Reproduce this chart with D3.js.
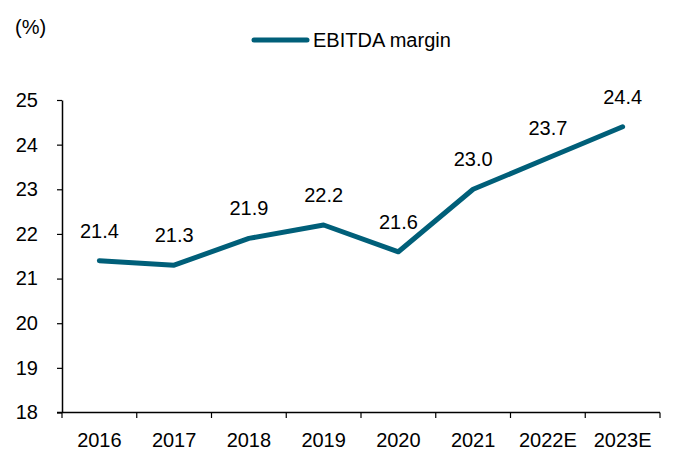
<!DOCTYPE html>
<html>
<head>
<meta charset="utf-8">
<script src="https://cdn.jsdelivr.net/npm/d3@7"></script>
<style>
  body { margin: 0; background: #fff; }
  text { font-family: "Liberation Sans", Arial, sans-serif; fill: #000; }
</style>
</head>
<body>
<div id="chart"></div>
<script>
// Data
var years = ["2016", "2017", "2018", "2019", "2020", "2021", "2022E", "2023E"];
var margin = [21.4, 21.3, 21.9, 22.2, 21.6, 23.0, 23.7, 24.4];
var yTicks = [18, 19, 20, 21, 22, 23, 24, 25];
var seriesName = "EBITDA margin";

var w = 683, h = 450;
var fs = 20;
var lineColor = "#005f79";

var svg = d3.select("#chart").append("svg")
	.attr("width", w)
	.attr("height", h);

// Scales
var x = d3.scaleBand()
	.domain(years)
	.range([62, 660]);

var y = d3.scaleLinear()
	.domain([18, 25])
	.range([412.5, 100]);

// Y axis
var yAxis = d3.axisLeft(y)
	.tickValues(yTicks)
	.tickFormat(d3.format("d"))
	.tickSizeInner(5)
	.tickSizeOuter(0)
	.tickPadding(19);

var gy = svg.append("g")
	.attr("transform", "translate(62,0)")
	.call(yAxis);
gy.attr("font-size", fs).attr("font-family", null);
gy.selectAll("text").attr("font-size", fs);
gy.select(".domain").attr("stroke-width", 1.5);
gy.selectAll(".tick line").attr("stroke-width", 1.2);

// X axis with ticks between categories
svg.append("line")
	.attr("x1", 57).attr("x2", 660)
	.attr("y1", 412.5).attr("y2", 412.5)
	.attr("stroke", "#000").attr("stroke-width", 1.5);

var bounds = years.map(function(d) { return x(d); }).concat([x.range()[1]]);
svg.selectAll(".xtick")
	.data(bounds)
	.enter().append("line")
	.attr("class", "xtick")
	.attr("x1", function(d) { return d; })
	.attr("x2", function(d) { return d; })
	.attr("y1", 412.5).attr("y2", 418)
	.attr("stroke", "#000").attr("stroke-width", 1.2);

svg.selectAll(".xlabel")
	.data(years)
	.enter().append("text")
	.attr("class", "xlabel")
	.attr("x", function(d) { return x(d) + x.bandwidth() / 2; })
	.attr("y", 447)
	.attr("text-anchor", "middle")
	.attr("font-size", fs)
	.text(function(d) { return d; });

// Line
var line = d3.line()
	.x(function(d, i) { return x(years[i]) + x.bandwidth() / 2; })
	.y(function(d) { return y(d); });

svg.append("path")
	.datum(margin)
	.attr("d", line)
	.attr("fill", "none")
	.attr("stroke", lineColor)
	.attr("stroke-width", 5)
	.attr("stroke-linecap", "round")
	.attr("stroke-linejoin", "round");

// Value labels
svg.selectAll(".vlabel")
	.data(margin)
	.enter().append("text")
	.attr("class", "vlabel")
	.attr("x", function(d, i) { return x(years[i]) + x.bandwidth() / 2; })
	.attr("y", function(d) { return y(d) - 23; })
	.attr("text-anchor", "middle")
	.attr("font-size", fs)
	.text(function(d) { return d.toFixed(1); });

// Unit label
svg.append("text")
	.attr("x", 15).attr("y", 34)
	.attr("font-size", fs)
	.text("(%)");

// Legend
svg.append("line")
	.attr("x1", 254).attr("x2", 307)
	.attr("y1", 40).attr("y2", 40)
	.attr("stroke", lineColor)
	.attr("stroke-width", 5)
	.attr("stroke-linecap", "round");

svg.append("text")
	.attr("x", 313).attr("y", 47)
	.attr("font-size", fs)
	.text(seriesName);
</script>
</body>
</html>
